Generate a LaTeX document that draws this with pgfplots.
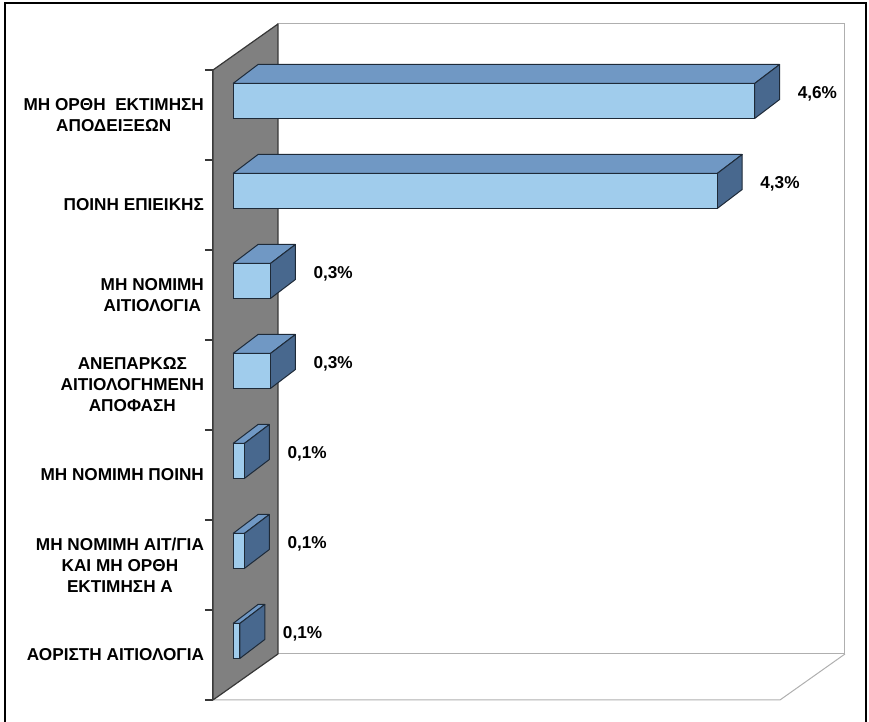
\documentclass[border=0pt]{standalone}
\usepackage{fontspec}
\setmainfont{Liberation Sans}
\usepackage{pgfplots}
\pgfplotsset{compat=1.18}
\usepackage{pgfplotstable}
\definecolor{barfront}{RGB}{160,204,236}
\definecolor{bartop}{RGB}{112,152,196}
\definecolor{barside}{RGB}{72,104,142}
\definecolor{baredge}{RGB}{30,42,56}
\definecolor{wallgray}{RGB}{128,128,128}
\definecolor{walledge}{RGB}{55,55,55}
\definecolor{gridgray}{RGB}{175,175,175}

% c = category position (6 = top), val = percentage
\pgfplotstableread{
c val
6 4.60
5 4.27
4 0.33
3 0.33
2 0.10
1 0.10
0 0.06
}\datatable

\def\BX{0.2205}\def\BY{0.2111}
\def\FY{0.1556}\def\HH{0.1944}

\pgfplotsset{
  topface/.style={fill=bartop, draw=baredge, line width=0.5pt, forget plot, line join=round},
  sideface/.style={fill=barside, draw=baredge, line width=0.5pt, forget plot, line join=round},
}

\begin{document}
\begin{tikzpicture}
\useasboundingbox (0,0) rectangle (434.5pt,361pt);
\begin{axis}[
  at={(106.5pt,11pt)}, anchor=south west,
  scale only axis, width=283.5pt, height=315pt,
  xmin=-0.1764, xmax=4.8236, ymin=-0.5, ymax=6.5,
  clip=false,
  axis lines*=left,
  x axis line style={draw=none},
  y axis line style={draw=walledge, line width=0.6pt},
  xtick=\empty,
  ytick={0,...,6},
  yticklabels={
    {ΑΟΡΙΣΤΗ ΑΙΤΙΟΛΟΓΙΑ},
    {ΜΗ ΝΟΜΙΜΗ ΑΙΤ/ΓΙΑ\\ΚΑΙ ΜΗ ΟΡΘΗ\\ΕΚΤΙΜΗΣΗ Α},
    {ΜΗ ΝΟΜΙΜΗ ΠΟΙΝΗ},
    {ΑΝΕΠΑΡΚΩΣ\\ΑΙΤΙΟΛΟΓΗΜΕΝΗ\\ΑΠΟΦΑΣΗ},
    {ΜΗ ΝΟΜΙΜΗ\\ΑΙΤΙΟΛΟΓΙΑ},
    {ΠΟΙΝΗ ΕΠΙΕΙΚΗΣ},
    {ΜΗ ΟΡΘΗ\ \ ΕΚΤΙΜΗΣΗ\\ΑΠΟΔΕΙΞΕΩΝ}},
  yticklabel style={align=center, font=\bfseries\fontsize{8.6}{10.5}\selectfont, text=black, xshift=-1pt},
  major tick length=0pt,
  minor ytick={-0.5,0.5,...,6.5},
  minor tick length=4pt,
  tick align=outside,
  minor tick style={draw=walledge, line width=0.6pt},
]
% back wall
\addplot[fill=white, draw=gridgray, line width=0.5pt, forget plot]
  coordinates {(0.3968,0.0111) (5.3968,0.0111) (5.3968,7.0111) (0.3968,7.0111) (0.3968,0.0111)};
% floor
\addplot[draw=gridgray, line width=0.5pt, forget plot]
  coordinates {(-0.1764,-0.5) (4.8236,-0.5) (5.3968,0.0111)};
% left wall
\addplot[fill=wallgray, draw=walledge, line width=0.6pt, forget plot, line join=round]
  coordinates {(-0.1764,-0.5) (-0.1764,6.5) (0.3968,7.0111) (0.3968,0.0111) (-0.1764,-0.5)};
% top and side faces of the 3D bars
\pgfplotsinvokeforeach{0,...,6}{%
  \pgfplotstablegetelem{#1}{c}\of\datatable \let\cc\pgfplotsretval
  \pgfplotstablegetelem{#1}{val}\of\datatable \let\vv\pgfplotsretval
  \pgfmathsetmacro\xb{\vv}%
  \pgfmathsetmacro\xc{\vv+\BX}%
  \pgfmathsetmacro\xd{\BX}%
  \pgfmathsetmacro\yb{\cc+\FY-\HH}%
  \pgfmathsetmacro\yt{\cc+\FY+\HH}%
  \pgfmathsetmacro\ytt{\cc+\FY+\HH+\BY}%
  \pgfmathsetmacro\ybb{\cc+\FY-\HH+\BY}%
  \edef\temp{%
    \noexpand\addplot[topface] coordinates {(0,\yt) (\xb,\yt) (\xc,\ytt) (\xd,\ytt) (0,\yt)};
    \noexpand\addplot[sideface] coordinates {(\xb,\yb) (\xb,\yt) (\xc,\ytt) (\xc,\ybb) (\xb,\yb)};
  }%
  \temp
}
% front faces (the bars) with value labels
\addplot[xbar, bar width=17.5pt, bar shift=7pt, fill=barfront, draw=baredge, line width=0.5pt,
  point meta=x,
  nodes near coords={\pgfmathprintnumber[fixed,fixed zerofill,precision=1,use comma,assume math mode=true]{\pgfplotspointmeta}\%},
  every node near coord/.append style={anchor=west, xshift=18pt, yshift=10.5pt, text=black,
    font=\bfseries\fontsize{8.6}{10.5}\selectfont}]
  table[x=val, y=c] {\datatable};
\end{axis}
\draw[line width=1pt] (2.5pt,0) -- (2.5pt,359.5pt) -- (433pt,359.5pt) -- (433pt,0);
\end{tikzpicture}
\end{document}
